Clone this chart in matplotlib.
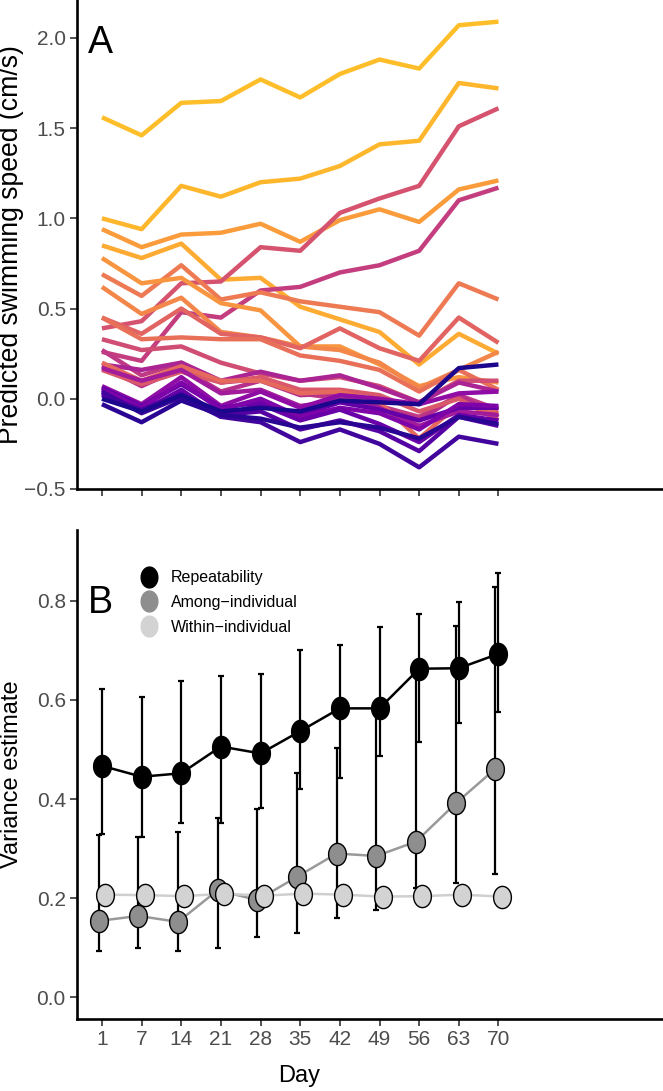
import numpy as np
import matplotlib
matplotlib.use("Agg")
import matplotlib.pyplot as plt
from matplotlib.path import Path
from matplotlib.lines import Line2D

plt.rcParams['font.family'] = ['Liberation Sans', 'DejaVu Sans']

days = [1, 7, 14, 21, 28, 35, 42, 49, 56, 63, 70]

# panel A: predicted speed per fish, colour = position on plasma scale
fast_fish = [
    [1.56, 1.46, 1.64, 1.65, 1.77, 1.67, 1.80, 1.88, 1.83, 2.07, 2.09],
    [1.00, 0.94, 1.18, 1.12, 1.20, 1.22, 1.29, 1.41, 1.43, 1.75, 1.72],
    [0.94, 0.84, 0.91, 0.92, 0.97, 0.87, 0.99, 1.05, 0.98, 1.16, 1.21],
    [0.85, 0.78, 0.86, 0.66, 0.67, 0.51, 0.44, 0.37, 0.19, 0.36, 0.25],
    [0.39, 0.43, 0.64, 0.65, 0.84, 0.82, 1.03, 1.11, 1.18, 1.51, 1.61],
    [0.26, 0.21, 0.48, 0.45, 0.60, 0.62, 0.70, 0.74, 0.82, 1.10, 1.17],
]
fast_colour = [0.86, 0.84, 0.77, 0.81, 0.54, 0.47]

mid_fish = [
    [0.69, 0.57, 0.74, 0.55, 0.59, 0.54, 0.51, 0.48, 0.35, 0.64, 0.55],
    [0.78, 0.64, 0.67, 0.53, 0.49, 0.29, 0.29, 0.19, 0.07, 0.12, 0.09],
    [0.62, 0.47, 0.56, 0.37, 0.34, 0.29, 0.27, 0.20, 0.06, 0.16, 0.26],
    [0.45, 0.36, 0.50, 0.36, 0.34, 0.28, 0.39, 0.28, 0.21, 0.45, 0.31],
    [0.45, 0.33, 0.34, 0.33, 0.33, 0.24, 0.21, 0.16, 0.04, 0.16, 0.05],
    [0.33, 0.27, 0.29, 0.20, 0.14, 0.10, 0.12, 0.07, -0.02, 0.10, 0.10],
]
mid_colour = [0.67, 0.75, 0.71, 0.60, 0.64, 0.52]

slow_fish = [
    [0.27, 0.13, 0.20, 0.09, 0.11, 0.03, 0.00, -0.04, -0.10, 0.02, -0.06],
    [0.19, 0.16, 0.20, 0.10, 0.15, 0.10, 0.13, 0.06, -0.02, 0.09, 0.04],
    [0.18, 0.07, 0.17, 0.04, 0.10, 0.02, 0.03, -0.05, -0.12, 0.02, -0.10],
    [0.16, 0.08, 0.15, 0.09, 0.12, 0.05, 0.05, 0.02, -0.07, 0.00, -0.12],
    [0.20, 0.10, 0.18, 0.10, 0.10, 0.03, 0.04, -0.02, -0.22, -0.03, -0.08],
    [0.17, 0.10, 0.16, 0.03, 0.05, -0.04, -0.01, -0.05, -0.15, -0.07, -0.09],
    [0.07, -0.03, 0.12, -0.04, 0.04, -0.05, 0.02, 0.00, -0.03, 0.03, 0.04],
    [0.06, -0.04, 0.08, -0.05, -0.02, -0.09, -0.02, -0.06, -0.12, -0.05, -0.05],
    [0.05, -0.05, 0.09, -0.06, 0.00, -0.10, -0.05, -0.08, -0.17, -0.03, -0.04],
    [0.03, -0.07, 0.05, -0.10, -0.03, -0.12, -0.06, -0.14, -0.24, -0.09, -0.12],
    [0.02, -0.06, 0.03, -0.09, -0.07, -0.17, -0.12, -0.18, -0.29, -0.10, -0.15],
    [0.04, -0.08, 0.01, -0.10, -0.13, -0.24, -0.17, -0.25, -0.38, -0.21, -0.25],
    [0.00, -0.07, 0.02, -0.07, -0.05, -0.07, -0.01, -0.02, -0.03, 0.17, 0.19],
    [-0.03, -0.13, -0.01, -0.09, -0.11, -0.16, -0.13, -0.16, -0.22, -0.10, -0.14],
]
slow_colour = [0.45, 0.38, 0.42, 0.56, 0.62, 0.35, 0.30, 0.18, 0.25, 0.20, 0.15, 0.10, 0.02, 0.05]

# panel B: variance estimates with intervals
rep_est = [0.467, 0.445, 0.452, 0.506, 0.492, 0.537, 0.583, 0.583, 0.663, 0.664, 0.693]
rep_low = [0.329, 0.323, 0.351, 0.351, 0.381, 0.420, 0.442, 0.487, 0.516, 0.553, 0.576]
rep_high = [0.623, 0.605, 0.639, 0.648, 0.652, 0.701, 0.711, 0.748, 0.774, 0.797, 0.857]

among_est = [0.154, 0.164, 0.152, 0.216, 0.196, 0.243, 0.290, 0.285, 0.314, 0.391, 0.461]
among_low = [0.094, 0.100, 0.094, 0.100, 0.122, 0.129, 0.159, 0.176, 0.220, 0.230, 0.248]
among_high = [0.327, 0.323, 0.334, 0.361, 0.379, 0.452, 0.502, 0.575, 0.655, 0.750, 0.828]

within_est = [0.207, 0.206, 0.204, 0.209, 0.205, 0.209, 0.207, 0.203, 0.204, 0.207, 0.203]

legend_labels = ['Repeatability', 'Among\u2212individual', 'Within\u2212individual']


def ellipse_marker():
    t = np.linspace(0, 2 * np.pi, 80)
    return Path(np.column_stack([0.8 * np.cos(t), np.sin(t)]), closed=True)


def style_axis(ax):
    for side in ['top', 'right']:
        ax.spines[side].set_visible(False)
    for side in ['left', 'bottom']:
        ax.spines[side].set_linewidth(1.9)
    ax.tick_params(length=5, width=1.2, color='#333333', labelcolor='#4D4D4D',
                   labelsize=15, pad=3)


def main():
    fig = plt.figure(figsize=(6.63, 10.91), dpi=100)
    ax_a = fig.add_axes([0.1161, 0.5518, 0.8839, 0.4482])
    ax_b = fig.add_axes([0.1161, 0.0660, 0.8839, 0.4482])
    x = np.arange(len(days))
    cmap = plt.get_cmap('plasma')

    # ---- A
    for rows, cols in [(fast_fish, fast_colour), (mid_fish, mid_colour), (slow_fish, slow_colour)]:
        for vals, c in zip(rows, cols):
            ax_a.plot(x, vals, color=cmap(c), lw=3.2, solid_capstyle='butt')
    ax_a.set_xlim(-0.63, 14.15)
    ax_a.set_ylim(-0.5, 2.21)
    ax_a.set_yticks([-0.5, 0.0, 0.5, 1.0, 1.5, 2.0])
    ax_a.set_xticks(x)
    ax_a.set_xticklabels([])
    style_axis(ax_a)
    ax_a.set_ylabel('Predicted swimming speed (cm/s)', fontsize=19.2)
    ax_a.yaxis.set_label_coords(-0.09, 0.5)
    ax_a.text(0.018, 0.912, 'A', transform=ax_a.transAxes, fontsize=27, va='center')

    # ---- B
    mk = ellipse_marker()
    dodge = 0.08
    ax_b.errorbar(x - dodge, among_est,
                  yerr=[np.array(among_est) - np.array(among_low),
                        np.array(among_high) - np.array(among_est)],
                  fmt='none', ecolor='black', elinewidth=1.6, capsize=2, capthick=1.6, zorder=2)
    ax_b.errorbar(x, rep_est,
                  yerr=[np.array(rep_est) - np.array(rep_low),
                        np.array(rep_high) - np.array(rep_est)],
                  fmt='none', ecolor='black', elinewidth=1.6, capsize=2, capthick=1.6, zorder=2)
    ax_b.plot(x - dodge, among_est, color='#999999', lw=1.8, zorder=3)
    ax_b.plot(x + dodge, within_est, color='#CFCFCF', lw=1.8, zorder=3)
    ax_b.plot(x, rep_est, color='black', lw=1.8, zorder=3)
    ax_b.plot(x - dodge, among_est, ls='none', marker=mk, ms=16, mfc='#8E8E8E',
              mec='black', mew=1.0, zorder=4)
    ax_b.plot(x + dodge, within_est, ls='none', marker=mk, ms=16, mfc='#D3D3D3',
              mec='black', mew=1.0, zorder=5)
    ax_b.plot(x, rep_est, ls='none', marker=mk, ms=16, mfc='black',
              mec='black', mew=1.0, zorder=6)

    ax_b.set_xlim(-0.63, 14.15)
    ax_b.set_ylim(-0.044, 0.943)
    ax_b.set_yticks([0.0, 0.2, 0.4, 0.6, 0.8])
    ax_b.set_xticks(x)
    ax_b.set_xticklabels([str(d) for d in days])
    style_axis(ax_b)
    ax_b.set_ylabel('Variance estimate', fontsize=17)
    ax_b.yaxis.set_label_coords(-0.092, 0.5)
    ax_b.set_xlabel('Day', fontsize=17)
    ax_b.xaxis.set_label_coords((299 - 77) / 586, -0.095)
    ax_b.text(0.018, 0.85, 'B', transform=ax_b.transAxes, fontsize=27, va='center')

    handles = [Line2D([], [], ls='none', marker=mk, ms=15, mfc=fc, mec=fc)
               for fc in ['black', '#8E8E8E', '#D3D3D3']]
    ax_b.legend(handles, legend_labels, loc='upper left', bbox_to_anchor=(0.098, 0.931),
                frameon=False, fontsize=11.5, handlelength=1.0, handletextpad=0.9,
                labelspacing=0.62, borderaxespad=0)

    fig.savefig('out.png', dpi=100)


if __name__ == "__main__":
    main()
